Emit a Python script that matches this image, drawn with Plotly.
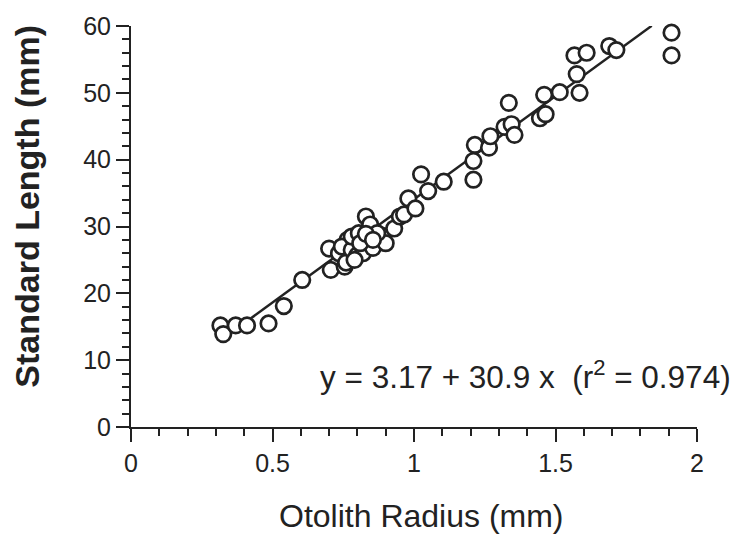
import plotly.graph_objects as go

# Otolith radius (mm) and standard length (mm)
otolith_radius = [0.316, 0.326, 0.37, 0.41, 0.486, 0.54, 0.605, 0.706, 0.70, 0.735,
                  0.755, 0.76, 0.765, 0.745, 0.78, 0.78, 0.80, 0.805, 0.83, 0.845,
                  0.835, 0.86, 0.875, 0.89, 0.82, 0.855, 0.90, 0.93, 0.95, 0.965,
                  0.98, 1.005, 1.025, 1.05, 1.105, 1.21, 1.21, 1.215, 1.265, 1.27,
                  1.32, 1.335, 1.345, 1.355, 1.445, 1.465, 1.46, 1.515, 1.585, 1.575,
                  1.567, 1.61, 1.69, 1.715, 1.91, 1.91, 0.79, 0.87, 0.81, 0.83, 0.855]
standard_length = [15.2, 13.9, 15.2, 15.2, 15.5, 18.1, 22.0, 23.5, 26.7, 26.0,
                   24.0, 24.6, 28.0, 27.0, 26.5, 28.5, 25.7, 29.0, 31.5, 30.3,
                   27.3, 27.8, 28.3, 28.6, 26.0, 26.8, 27.5, 29.7, 31.5, 31.8,
                   34.2, 32.7, 37.8, 35.3, 36.7, 37.0, 39.8, 42.2, 41.8, 43.5,
                   44.9, 48.5, 45.3, 43.7, 46.2, 46.8, 49.7, 50.1, 50.0, 52.8,
                   55.6, 56.0, 57.0, 56.4, 59.0, 55.6, 25.0, 29.0, 27.5, 28.9, 28.0]

fit_intercept = 3.17
fit_slope = 30.9
fit_x = [0.425, 1.84]
fit_y = [fit_intercept + fit_slope * v for v in fit_x]

x_ticks = [0, 0.5, 1, 1.5, 2]
x_ticklabels = ["0", "0.5", "1", "1.5", "2"]
y_ticks = [0, 10, 20, 30, 40, 50, 60]
y_ticklabels = ["0", "10", "20", "30", "40", "50", "60"]

ink = "#222222"
font = "Liberation Sans, Arial, Helvetica, sans-serif"

fig = go.Figure()
fig.add_trace(go.Scatter(x=fit_x, y=fit_y, mode="lines",
                         line=dict(color=ink, width=2.5), hoverinfo="skip",
                         showlegend=False))
fig.add_trace(go.Scatter(x=otolith_radius, y=standard_length, mode="markers",
                         marker=dict(symbol="circle", size=15.5, color="white",
                                     line=dict(color=ink, width=2.7)),
                         cliponaxis=False, showlegend=False))

axis_common = dict(showline=True, linecolor=ink, linewidth=2, ticks="outside",
                   tickcolor=ink, tickwidth=2, ticklen=13, showgrid=False,
                   zeroline=False, tickfont=dict(family=font, size=25, color=ink))

fig.update_xaxes(range=[0, 2], tickvals=x_ticks, ticktext=x_ticklabels,
                 minor=dict(dtick=0.1, tick0=0, ticks="outside", ticklen=7,
                            tickwidth=2, tickcolor=ink),
                 **axis_common)
fig.update_yaxes(range=[0, 60], tickvals=y_ticks, ticktext=y_ticklabels,
                 minor=dict(dtick=2, tick0=0, ticks="outside", ticklen=7,
                            tickwidth=2, tickcolor=ink),
                 **axis_common)

fig.add_annotation(text="Otolith Radius (mm)", xref="paper", yref="paper",
                   x=(421 - 131) / 566, y=-(517 - 427) / 404, showarrow=False,
                   xanchor="center", yanchor="middle",
                   font=dict(family=font, size=32, color=ink))
fig.add_annotation(text="<b>Standard Length (mm)</b>", xref="paper", yref="paper",
                   x=-(131 - 27) / 566, y=(427 - 205) / 404, showarrow=False,
                   textangle=-90, xanchor="center", yanchor="middle",
                   font=dict(family=font, size=34, color=ink))
fig.add_annotation(text="y = 3.17 + 30.9 x\u00a0\u00a0(r<sup>2</sup> = 0.974)",
                   xref="paper", yref="paper",
                   x=(525 - 131) / 566, y=(427 - 375) / 404, showarrow=False,
                   xanchor="center", yanchor="middle",
                   font=dict(family=font, size=31.5, color=ink))

fig.update_layout(width=737, height=539, plot_bgcolor="white", paper_bgcolor="white",
                  margin=dict(l=131, r=40, t=23, b=112))

fig.write_html("out.html")
